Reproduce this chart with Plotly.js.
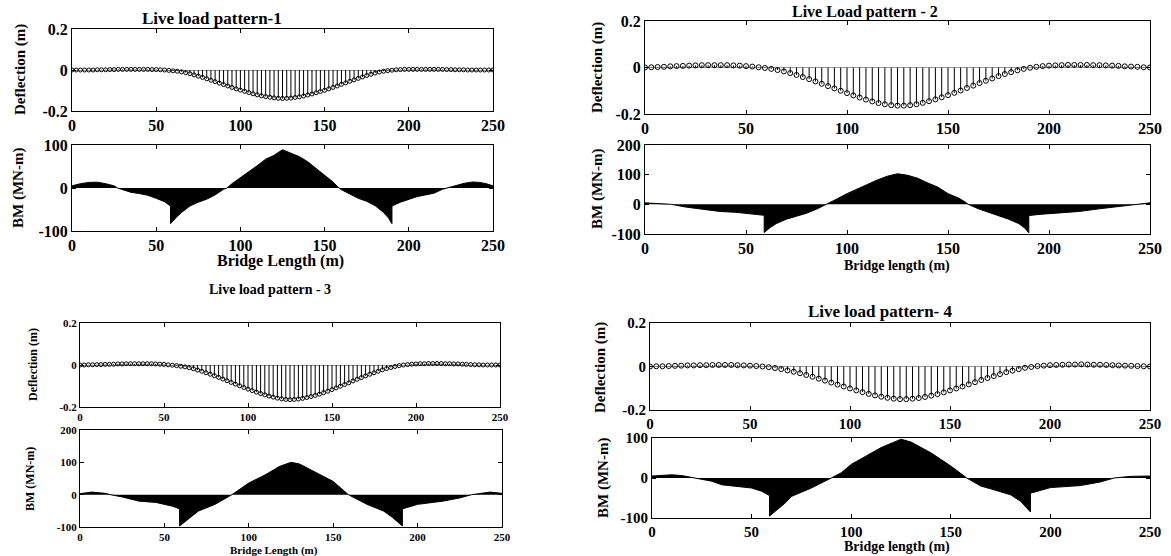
<!DOCTYPE html>
<html>
<head>
<meta charset="utf-8">
<script src="https://cdn.plot.ly/plotly-3.0.1.min.js"></script>
<style>
html,body{margin:0;padding:0;background:#fff;}
#chart{width:1171px;height:556px;}
</style>
</head>
<body>
<div id="chart"></div>
<script>
// ---------- DATA ----------
const titles = ["Live load pattern-1", "Live Load pattern - 2", "Live load pattern - 3", "Live load pattern- 4"];
const xTitles = ["Bridge Length (m)", "Bridge length (m)", "Bridge Length (m)", "Bridge length (m)"];
const defTitle = "Deflection (m)";
const bmTitle = "BM (MN-m)";

const xTickVals = [0, 50, 100, 150, 200, 250];
const xTickText = ["0", "50", "100", "150", "200", "250"];
const defTickVals = [-0.2, 0, 0.2];
const defTickText = ["-0.2", "0", "0.2"];
const bmTickValsA = [-100, 0, 100];
const bmTickTextA = ["-100", "0", "100"];
const bmTickValsB = [-100, 0, 100, 200];
const bmTickTextB = ["-100", "0", "100", "200"];

// deflection stations (2.5 m spacing)
const xFine = [0,2.5,5,7.5,10,12.5,15,17.5,20,22.5,25,27.5,30,32.5,35,37.5,40,42.5,45,47.5,
  50,52.5,55,57.5,60,62.5,65,67.5,70,72.5,75,77.5,80,82.5,85,87.5,90,92.5,95,97.5,
  100,102.5,105,107.5,110,112.5,115,117.5,120,122.5,125,127.5,130,132.5,135,137.5,140,142.5,145,147.5,
  150,152.5,155,157.5,160,162.5,165,167.5,170,172.5,175,177.5,180,182.5,185,187.5,190,192.5,195,197.5,
  200,202.5,205,207.5,210,212.5,215,217.5,220,222.5,225,227.5,230,232.5,235,237.5,240,242.5,245,247.5,250];
// deflection stations (3.125 m spacing)
const xCoarse = [0,3.125,6.25,9.375,12.5,15.625,18.75,21.875,25,28.125,31.25,34.375,37.5,40.625,43.75,46.875,
  50,53.125,56.25,59.375,62.5,65.625,68.75,71.875,75,78.125,81.25,84.375,87.5,90.625,93.75,96.875,
  100,103.125,106.25,109.375,112.5,115.625,118.75,121.875,125,128.125,131.25,134.375,137.5,140.625,143.75,146.875,
  150,153.125,156.25,159.375,162.5,165.625,168.75,171.875,175,178.125,181.25,184.375,187.5,190.625,193.75,196.875,
  200,203.125,206.25,209.375,212.5,215.625,218.75,221.875,225,228.125,231.25,234.375,237.5,240.625,243.75,246.875,250];

const defl1 = [0,0,0,0,0,0,0.001,0.001,0.001,0.002,0.002,0.003,0.003,0.003,0.003,0.003,0.003,0.003,0.003,0.002,
  0.002,0.001,0,-0.002,-0.004,-0.006,-0.009,-0.013,-0.018,-0.024,-0.03,-0.036,-0.043,-0.05,-0.057,-0.064,-0.071,-0.078,-0.085,-0.092,
  -0.098,-0.104,-0.11,-0.116,-0.121,-0.126,-0.13,-0.133,-0.136,-0.138,-0.139,-0.138,-0.137,-0.134,-0.131,-0.127,-0.122,-0.117,-0.111,-0.105,
  -0.099,-0.092,-0.085,-0.078,-0.07,-0.063,-0.055,-0.048,-0.041,-0.034,-0.027,-0.021,-0.015,-0.01,-0.006,-0.003,-0.001,0.001,0.002,0.003,
  0.003,0.003,0.003,0.003,0.003,0.003,0.003,0.003,0.003,0.002,0.002,0.001,0.001,0.001,0,0,0,0,0,0,0];

const defl2 = [0,0.001,0.002,0.003,0.005,0.006,0.007,0.008,0.009,0.01,0.01,0.01,0.01,0.01,0.009,0.008,
  0.006,0.004,0.001,-0.002,-0.006,-0.011,-0.017,-0.024,-0.032,-0.041,-0.05,-0.06,-0.07,-0.08,-0.09,-0.1,
  -0.11,-0.12,-0.129,-0.138,-0.146,-0.153,-0.158,-0.162,-0.164,-0.164,-0.162,-0.158,-0.152,-0.145,-0.137,-0.128,
  -0.119,-0.109,-0.099,-0.088,-0.078,-0.067,-0.057,-0.047,-0.037,-0.028,-0.02,-0.012,-0.006,-0.001,0.003,0.006,
  0.008,0.009,0.01,0.011,0.011,0.011,0.011,0.01,0.01,0.009,0.008,0.007,0.005,0.004,0.003,0.001,0];

const defl3 = [0,0,0.001,0.001,0.002,0.002,0.003,0.003,0.004,0.005,0.005,0.006,0.006,0.006,0.006,0.006,0.006,0.006,0.005,0.004,
  0.003,0.001,-0.001,-0.003,-0.006,-0.009,-0.013,-0.018,-0.024,-0.03,-0.037,-0.044,-0.051,-0.059,-0.067,-0.075,-0.083,-0.091,-0.099,-0.107,
  -0.115,-0.122,-0.129,-0.136,-0.142,-0.148,-0.153,-0.158,-0.161,-0.164,-0.165,-0.164,-0.162,-0.159,-0.155,-0.15,-0.145,-0.139,-0.132,-0.125,
  -0.117,-0.109,-0.101,-0.093,-0.085,-0.076,-0.068,-0.06,-0.052,-0.044,-0.037,-0.03,-0.023,-0.017,-0.012,-0.007,-0.003,0,0.002,0.004,
  0.005,0.006,0.006,0.007,0.007,0.007,0.007,0.006,0.006,0.005,0.005,0.004,0.003,0.002,0.001,0.001,0,0,0,0,0];

const defl4 = [0,0.001,0.001,0.002,0.003,0.004,0.005,0.005,0.006,0.006,0.007,0.007,0.007,0.007,0.006,0.005,
  0.004,0.002,0,-0.003,-0.007,-0.012,-0.018,-0.024,-0.031,-0.039,-0.047,-0.056,-0.065,-0.074,-0.083,-0.092,
  -0.101,-0.11,-0.118,-0.126,-0.133,-0.139,-0.144,-0.148,-0.15,-0.15,-0.148,-0.145,-0.14,-0.134,-0.127,-0.119,
  -0.11,-0.101,-0.092,-0.082,-0.072,-0.062,-0.053,-0.044,-0.035,-0.026,-0.019,-0.012,-0.006,-0.002,0.002,0.004,
  0.006,0.007,0.008,0.009,0.009,0.01,0.009,0.008,0.008,0.007,0.006,0.005,0.004,0.003,0.002,0.001,0];

// bending moment
const bmX1 = [0,5,10,12.5,15,20,25,27,30,35,40,45,50,55,58.5,58.5,62,65,70,75,80,85,90,92,95,100,105,110,115,120,125,
  130,135,140,145,150,155,158,160,165,170,175,180,185,188,190,190,195,200,205,210,215,220,223,228,233,238,242,246,250];
const bmY1 = [5,10,13,14,13.5,10,5,0,-4,-10,-13,-17,-24,-32,-42,-83,-68,-57,-42,-33,-26,-16,-3,0,10,25,38,52,67,76,89,
  81,73,61,46,30,14,2,-4,-14,-24,-31,-41,-57,-70,-83,-42,-33,-26,-20,-16,-12,-3,0,6,11,14,13,10,5];

const bmX2 = [0,5,10,13,20,25,30,37,45,50,55,59,59,62,65,70,75,80,85,90,95,100,105,110,115,120,125,
  130,135,140,145,150,155,158,160,165,170,175,180,185,188,190,190,195,200,210,215,225,235,240,245,250];
const bmY2 = [5,3,1,0,-9,-14,-19,-24,-27,-30,-33,-37,-95,-78,-65,-50,-40,-30,-16,0,18,36,52,68,82,95,103,
  98,88,72,58,36,22,10,0,-15,-27,-38,-50,-65,-80,-96,-38,-34,-31,-26,-24,-15,-6,-2,2,5];

const bmX3 = [0,7,15,18,25,35,45,50,55,59,59,65,70,80,90,100,110,118,125,130,135,150,159,170,180,185,191,191,200,215,225,232,243,250];
const bmY3 = [3,8,4,0,-7,-20,-24,-30,-36,-44,-97,-72,-51,-30,0,36,62,87,100,95,82,41,0,-30,-51,-70,-97,-44,-30,-20,-10,0,8,4];

const bmX4 = [0,10,15,22,30,35,45,50,55,59,59,63,67,70,80,90,95,100,110,115,125,130,140,150,158,165,170,180,185,190,190,200,215,225,232,240,250];
const bmY4 = [5,8,6,0,-8,-17,-22,-25,-33,-44,-95,-78,-62,-46,-25,0,13,34,63,76,97,90,63,30,0,-20,-27,-42,-58,-85,-38,-24,-19,-10,0,4,5];

// ---------- LAYOUT HELPERS ----------
const W = 1171, H = 556;
const px = v => v / W;
const py = v => 1 - v / H;

// panels: [x0,x1,yTop,yBottom] in pixels
const panels = [
  {def:[72,493,29,111], bm:[72,493,145,231], bmRange:[-100,100], bmTV:bmTickValsA, bmTT:bmTickTextA, fs:16, dx:xFine, dy:defl1, bx:bmX1, by:bmY1, ms:4},
  {def:[645,1150,21,114], bm:[645,1150,145,234], bmRange:[-100,200], bmTV:bmTickValsB, bmTT:bmTickTextB, fs:16, dx:xCoarse, dy:defl2, bx:bmX2, by:bmY2, ms:5},
  {def:[80,500,323,407], bm:[80,502,430,527], bmRange:[-100,200], bmTV:bmTickValsB, bmTT:bmTickTextB, fs:11, dx:xFine, dy:defl3, bx:bmX3, by:bmY3, ms:4},
  {def:[650,1150,323,410], bm:[652,1150,438,518], bmRange:[-100,100], bmTV:bmTickValsA, bmTT:bmTickTextA, fs:15, dx:xCoarse, dy:defl4, bx:bmX4, by:bmY4, ms:5}
];

const font = "Liberation Serif";
const traces = [];
const layout = {
  width: W, height: H,
  margin: {l:0, r:0, t:0, b:0},
  paper_bgcolor: "#fff", plot_bgcolor: "#fff",
  showlegend: false,
  font: {family: font, color: "#000"},
  annotations: []
};

function axisX(dom, anchor, fs) {
  return {
    domain: [px(dom[0]), px(dom[1])], anchor: anchor, range: [0, 250],
    tickvals: xTickVals, ticktext: xTickText, ticks: "inside", ticklen: 4, tickcolor: "#000",
    showline: true, linecolor: "#000", linewidth: 1, mirror: "ticks",
    showgrid: false, zeroline: false,
    tickfont: {family: font, size: fs, color: "#000", weight: "bold"}
  };
}
function axisY(dom, anchor, range, tv, tt, fs, zl) {
  return {
    domain: [py(dom[3]), py(dom[2])], anchor: anchor, range: range,
    tickvals: tv, ticktext: tt, ticks: "inside", ticklen: 4, tickcolor: "#000",
    showline: true, linecolor: "#000", linewidth: 1, mirror: "ticks",
    showgrid: false, zeroline: zl, zerolinecolor: "#9a9a9a", zerolinewidth: 1,
    tickfont: {family: font, size: fs, color: "#000", weight: "bold"}
  };
}

panels.forEach((p, i) => {
  const a = 2 * i + 1, b = 2 * i + 2;
  const xa = "x" + a, ya = "y" + a, xb = "x" + b, yb = "y" + b;
  layout["xaxis" + a] = axisX(p.def, ya, p.fs);
  layout["yaxis" + a] = axisY(p.def, xa, [-0.2, 0.2], defTickVals, defTickText, p.fs, true);
  layout["xaxis" + b] = axisX(p.bm, yb, p.fs);
  layout["yaxis" + b] = axisY(p.bm, xb, p.bmRange, p.bmTV, p.bmTT, p.fs, false);

  // stem plot via asymmetric error bars from value to zero
  traces.push({
    type: "scatter", mode: "markers", x: p.dx, y: p.dy, xaxis: xa, yaxis: ya,
    marker: {symbol: "circle-open", size: p.ms, color: "#000", line: {width: 1, color: "#000"}},
    error_y: {type: "data", symmetric: false,
      array: p.dy.map(v => v < 0 ? -v : 0),
      arrayminus: p.dy.map(v => v > 0 ? v : 0),
      color: "#000", thickness: 1, width: 0},
    hoverinfo: "skip"
  });
  // bending moment filled area
  traces.push({
    type: "scatter", mode: "lines", x: p.bx, y: p.by, xaxis: xb, yaxis: yb,
    fill: "tozeroy", fillcolor: "#000", line: {color: "#000", width: 1},
    hoverinfo: "skip"
  });
});

function ann(text, x, y, size, angle) {
  layout.annotations.push({
    text: "<b>" + text + "</b>", xref: "paper", yref: "paper",
    x: px(x), y: py(y), xanchor: "center", yanchor: "middle",
    showarrow: false, textangle: angle || 0,
    font: {family: font, size: size, color: "#000"}
  });
}
// titles
ann(titles[0], 212, 18, 17);
ann(titles[1], 865, 12, 16);
ann(titles[2], 270, 289, 14);
ann(titles[3], 880, 311, 17);
// y titles
ann(defTitle, 20, 70, 15, -90);
ann(bmTitle, 18, 188, 15, -90);
ann(defTitle, 597, 68, 15, -90);
ann(bmTitle, 597, 189, 15, -90);
ann(defTitle, 33, 365, 12, -90);
ann(bmTitle, 30, 479, 12, -90);
ann(defTitle, 600, 367, 15, -90);
ann(bmTitle, 603, 478, 15, -90);
// x titles
ann(xTitles[0], 280, 261, 16);
ann(xTitles[1], 897, 266, 14);
ann(xTitles[2], 274, 550, 11);
ann(xTitles[3], 897, 547, 14);

Plotly.newPlot("chart", traces, layout, {staticPlot: true, displayModeBar: false});
</script>
</body>
</html>
